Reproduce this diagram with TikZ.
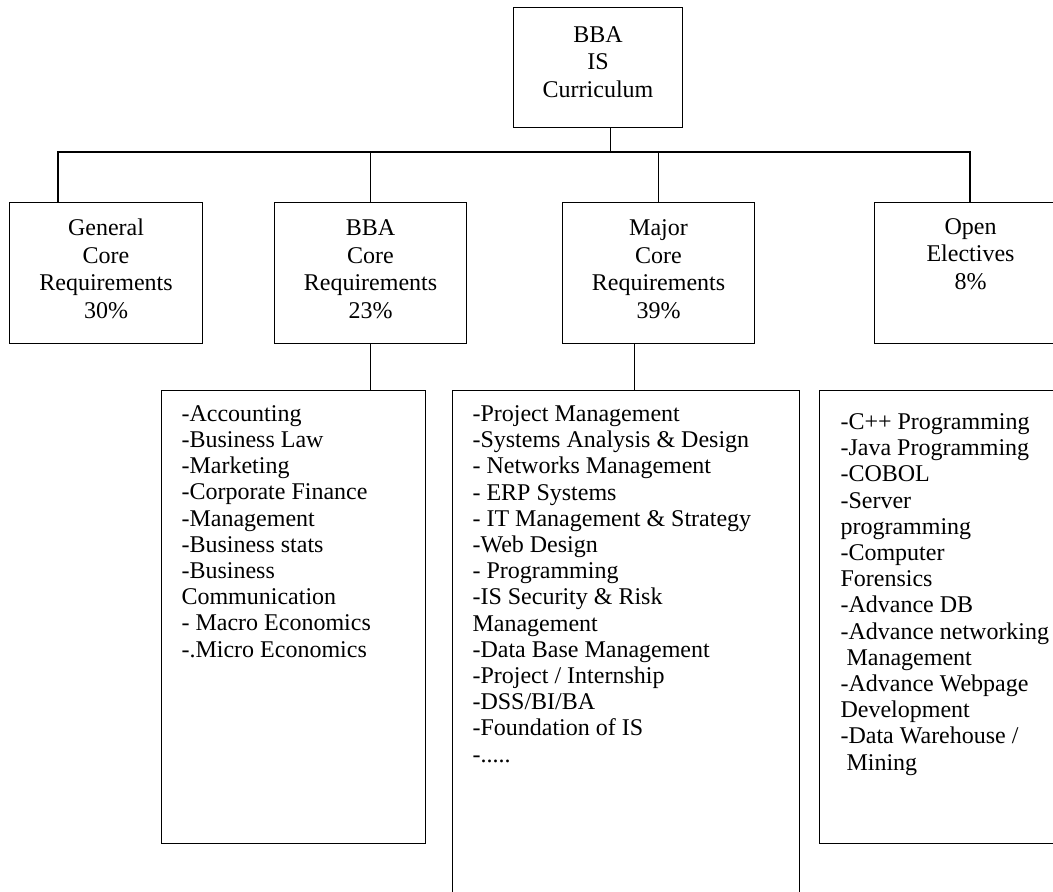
\documentclass[tikz,border=0pt]{standalone}
\usepackage{fontspec}
\setmainfont{Liberation Serif}
\usetikzlibrary{positioning}

\begin{document}
\begin{tikzpicture}[
    x=1pt, y=-1pt, % one unit per pixel, y running down the page
    line width=1.1pt,
    box/.style={draw, rectangle, inner sep=0pt, anchor=north west}, % plain frames
    headtext/.style={align=center, inner sep=0pt, anchor=base, font=\fontsize{24}{27.5}\selectfont}, % centred titles, anchored at last line
    listtext/.style={align=left, inner sep=0pt, anchor=base west, font=\fontsize{24}{26.2}\selectfont} % course lists, anchored at last line
]

    % Page (the right edge cuts the last column)
    \useasboundingbox (0,0) rectangle (1053,892);
    \clip (0,0) rectangle (1053,892);

    % Top box
    \node[box, minimum width=169, minimum height=120] (root) at (513,7) {};
    \node[headtext] (roottext) at ([yshift=-90pt]root.north) {BBA\\IS\\Curriculum};

    % Second row of boxes
    \node[box, minimum width=193, minimum height=141] (general) at (9,202) {};
    \node[box, minimum width=192, minimum height=141] (bbacore) at (274,202) {};
    \node[box, minimum width=192, minimum height=141] (majorcore) at (562,202) {};
    \node[box, minimum width=192, minimum height=141] (electives) at (874,202) {};

    \node[headtext] (generaltext) at ([yshift=-116pt]general.north) {General\\Core\\Requirements\\30\%};
    \node[headtext] (bbacoretext) at ([yshift=-116pt]bbacore.north) {BBA\\Core\\Requirements\\23\%};
    \node[headtext] (majorcoretext) at ([yshift=-116pt]majorcore.north) {Major\\Core\\Requirements\\39\%};
    \node[headtext] (electivestext) at ([yshift=-87pt]electives.north) {Open\\Electives\\8\%};

    % Course lists
    \node[box, minimum width=264, minimum height=453] (bbalist) at (161,390) {};
    \node[box, minimum width=347, minimum height=530] (majorlist) at (452,390) {};
    \node[box, minimum width=270, minimum height=453] (electlist) at (819,390) {};

    \node[listtext] (bbaitems) at ([xshift=20pt, yshift=-267pt]bbalist.north west)
        {-Accounting\\-Business Law\\-Marketing\\-Corporate Finance\\-Management\\-Business stats\\-Business\\Communication\\- Macro Economics\\-.Micro Economics};
    \node[listtext] (majoritems) at ([xshift=20pt, yshift=-372pt]majorlist.north west)
        {-Project Management\\-Systems Analysis \& Design\\- Networks Management\\- ERP Systems\\- IT Management \& Strategy\\-Web Design\\- Programming\\-IS Security \& Risk\\Management\\-Data Base Management\\-Project / Internship\\-DSS/BI/BA\\-Foundation of IS\\-.....};
    \node[listtext] (electitems) at ([xshift=21pt, yshift=-380pt]electlist.north west)
        {-C++ Programming\\-Java Programming\\-COBOL\\-Server\\programming\\-Computer\\Forensics\\-Advance DB\\-Advance networking\\\hspace*{6pt}Management\\-Advance Webpage\\Development\\-Data Warehouse /\\\hspace*{6pt}Mining};

    % Connectors
    \coordinate (busL) at (58,152);
    \coordinate (busR) at (970,152);
    \coordinate (rootdrop) at ([xshift=12.5pt]root.south);
    \coordinate (majordrop) at ([xshift=-24pt]majorcore.south);

    \draw (rootdrop) -- (rootdrop |- busL);
    \draw (busL |- general.north) -- (busL) -- (busR) -- (busR |- electives.north);
    \draw (bbacore.north |- busL) -- (bbacore.north);
    \draw (majorcore.north |- busL) -- (majorcore.north);
    \draw (bbacore.south) -- (bbacore.south |- bbalist.north);
    \draw (majordrop) -- (majordrop |- majorlist.north);

\end{tikzpicture}
\end{document}
